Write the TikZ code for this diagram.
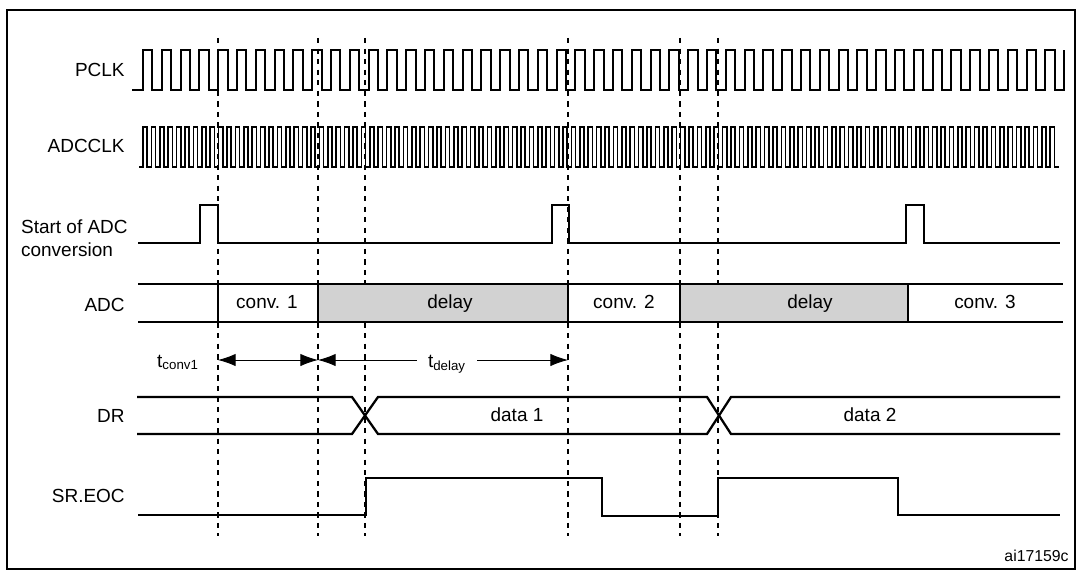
\documentclass[tikz,border=0pt]{standalone}
\usepackage{fontspec}
\setmainfont{Liberation Sans}
\usepackage{tikz}
\usetikzlibrary{arrows.meta,positioning}

\tikzset{
  sig/.style={line width=1.3pt, line join=miter},
  clk/.style={line width=0.9pt},
  guide/.style={line width=0.6pt, dash pattern=on 3pt off 3pt},
  span/.style={line width=0.5pt, {Latex[length=10pt,width=7pt]}-{Latex[length=10pt,width=7pt]}},
  halfspan/.style={line width=0.5pt, -{Latex[length=10pt,width=7pt]}},
  lbl/.style={anchor=east, inner sep=0pt, font=\fontsize{10.8}{13}\selectfont},
  txt/.style={inner sep=0pt, text height=8pt, text depth=2.2pt, font=\fontsize{10.8}{13}\selectfont},
}

\begin{document}
\begin{tikzpicture}[x=0.02cm, y=-0.02cm]
	\useasboundingbox (0,0) rectangle (1077,571);
	\draw[line width=0.8pt] (7,10) rectangle (1075,569);
	% guide lines
	\foreach \gx in {218,318,365,568,680,718}
	  \draw[guide] (\gx,38) -- (\gx,536);
	% signal names
	\node[lbl] (pclk) at (125,70) {PCLK};
	\node[lbl] (adcclk) at (125,146) {ADCCLK};
	\node[lbl, align=left] (start) at (128,238) {Start of ADC\\conversion};
	\node[lbl] (adc) at (125,305) {ADC};
	\node[lbl] (dr) at (125,416) {DR};
	\node[lbl] (eoc) at (125,496) {SR.EOC};
	% clocks
	\draw[sig, line width=1.1pt] (132,90) -- (143,90)
	  \foreach \i in {1,...,49} { -- ++(0,-40) -- ++(9.4,0) -- ++(0,40) -- ++(9.4,0) } -- ++(0,-40);
	\draw[clk] (139,167) -- (143,167)
	  \foreach \i in {1,...,109} { -- ++(0,-40) -- ++(4.2,0) -- ++(0,40) -- ++(4.2,0) };
	% start pulses
	\draw[sig] (138,243) -- (200,243) -- (200,205) -- (218,205) -- (218,243)
	  -- (552,243) -- (552,205) -- (569,205) -- (569,243)
	  -- (906,243) -- (906,205) -- (924,205) -- (924,243) -- (1060,243);
	% ADC phases
	\fill[gray!35] (318,284) rectangle (568,322);
	\fill[gray!35] (680,284) rectangle (908,322);
	\draw[sig] (138,284) -- (1063,284);
	\draw[sig] (138,322) -- (1063,322);
	\foreach \bx in {218,318,568,680,908}
	  \draw[sig] (\bx,284) -- (\bx,322);
	\node[txt] (conv1) at (267,303) {conv. 1};
	\node[txt] (delay1) at (450,303) {delay};
	\node[txt] (conv2) at (624,303) {conv. 2};
	\node[txt] (delay2) at (810,303) {delay};
	\node[txt] (conv3) at (985,303) {conv. 3};
	% durations
	\coordinate (c1) at (218,360);
	\coordinate (c2) at (318,360);
	\coordinate (c3) at (568,360);
	\node[txt] (tconv) at (178,362) {t\textsubscript{conv1}};
	\node[txt, minimum width=1.2cm] (tdelay) at (447,362) {t\textsubscript{delay}};
	\draw[span] (c1) -- (c2);
	\draw[halfspan] (tdelay.west |- c2) -- (c2);
	\draw[halfspan] (tdelay.east |- c3) -- (c3);
	% data register
	\draw[sig] (137,397) -- (352,397) -- (378,434) -- (707,434) -- (731,397) -- (1060,397);
	\draw[sig] (137,434) -- (352,434) -- (378,397) -- (707,397) -- (731,434) -- (1060,434);
	\node[txt] (data1) at (517,416) {data 1};
	\node[txt] (data2) at (870,416) {data 2};
	% end of conversion flag
	\draw[sig] (138,515) -- (366,515) -- (366,478) -- (602,478) -- (602,516)
	  -- (718,516) -- (718,478) -- (898,478) -- (898,515) -- (1060,515);
	\node[txt, anchor=east, font=\fontsize{9}{11}\selectfont] (ref) at (1069,556) {ai17159c};
\end{tikzpicture}
\end{document}
